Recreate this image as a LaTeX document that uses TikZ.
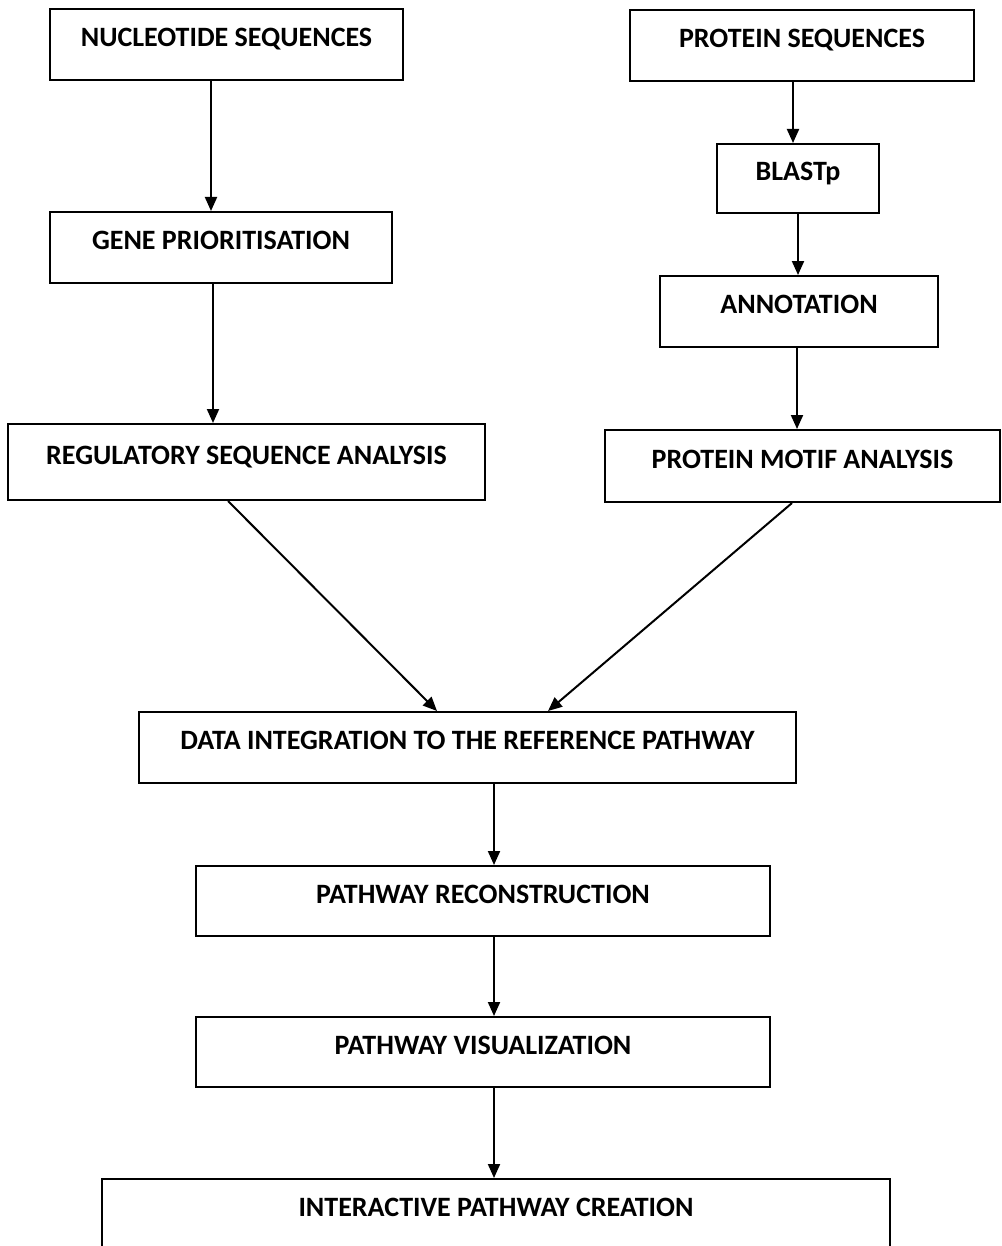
\documentclass[tikz,border=0pt]{standalone}
\usepackage{fontspec}
\setmainfont{Carlito}
\usetikzlibrary{arrows.meta}

\tikzset{
  stage/.style={draw, line width=1pt, inner sep=0pt,
    font=\bfseries\fontsize{14pt}{16pt}\selectfont, text height=9pt, text depth=7pt},
  flow/.style={line width=1pt, -{Triangle[length=7pt,width=6pt]}}
}

\begin{document}
\begin{tikzpicture}[x=0.5pt,y=-0.5pt]
\useasboundingbox (0,0) rectangle (1001,1246);

% left branch
\node[stage, minimum width=176.5pt, minimum height=35.5pt] (nuc)  at (226.5,44.5) {NUCLEOTIDE SEQUENCES};
\node[stage, minimum width=171pt,   minimum height=35.5pt] (gene) at (221,247.5)  {GENE PRIORITISATION};
\node[stage, minimum width=238.5pt, minimum height=38pt]   (reg)  at (246.5,462)  {REGULATORY SEQUENCE ANALYSIS};

% right branch
\node[stage, minimum width=172pt,   minimum height=35.5pt] (prot)  at (802,45.5)   {PROTEIN SEQUENCES};
\node[stage, minimum width=81pt,    minimum height=34.5pt] (blast) at (798,178.5)  {BLASTp};
\node[stage, minimum width=139pt,   minimum height=35.5pt] (annot) at (799,311.5)  {ANNOTATION};
\node[stage, minimum width=197.5pt, minimum height=36pt]   (motif) at (802.5,466)  {PROTEIN MOTIF ANALYSIS};

% common part
\node[stage, minimum width=328.5pt, minimum height=35.5pt] (integ) at (467.5,747.5) {DATA INTEGRATION TO THE REFERENCE PATHWAY};
\node[stage, minimum width=287pt,   minimum height=35pt]   (recon) at (483,901)     {PATHWAY RECONSTRUCTION};
\node[stage, minimum width=287pt,   minimum height=35pt]   (visu)  at (483,1052)    {PATHWAY VISUALIZATION};
\node[stage, minimum width=394pt,   minimum height=35.5pt] (inter) at (496,1214.5)  {INTERACTIVE PATHWAY CREATION};

% arrows
\draw[flow] ([xshift=-7.75pt]nuc.south) -- ([xshift=-7.75pt]nuc.south |- gene.north);
\draw[flow] ([xshift=-4pt]gene.south) -- ([xshift=-4pt]gene.south |- reg.north);
\draw[flow] ([xshift=-4.5pt]prot.south) -- ([xshift=-4.5pt]prot.south |- blast.north);
\draw[flow] (blast.south) -- (annot.north -| blast.south);
\draw[flow] ([xshift=-1pt]annot.south) -- ([xshift=-1pt]annot.south |- motif.north);
\draw[flow] ([xshift=-9.25pt]reg.south) -- ([xshift=-15.25pt]integ.north);
\draw[flow] ([xshift=-5.25pt]motif.south) -- ([xshift=40.25pt]integ.north);
\draw[flow] ([xshift=13.25pt]integ.south) -- ([xshift=13.25pt]integ.south |- recon.north);
\draw[flow] ([xshift=5.5pt]recon.south) -- ([xshift=5.5pt]recon.south |- visu.north);
\draw[flow] ([xshift=5.5pt]visu.south) -- ([xshift=5.5pt]visu.south |- inter.north);

\end{tikzpicture}
\end{document}
